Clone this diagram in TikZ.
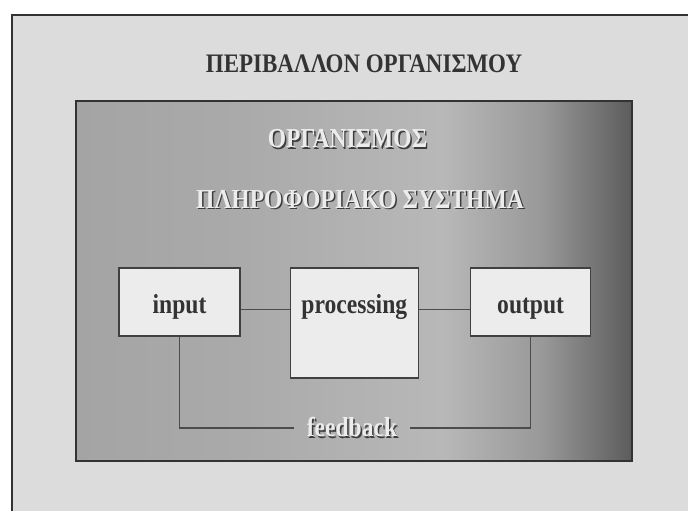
\documentclass[tikz,border=0pt]{standalone}
\usepackage{fontspec}
\setmainfont{Liberation Serif}
\usetikzlibrary{positioning}

\definecolor{envgray}{RGB}{220,220,220}
\definecolor{boxfill}{RGB}{236,236,236}
\definecolor{embtext}{RGB}{236,236,236}
\definecolor{embshade}{RGB}{60,60,60}
\definecolor{orgleft}{RGB}{164,164,164}
\definecolor{orgquarter}{RGB}{170,170,170}
\definecolor{orgmid}{RGB}{184,184,184}
\definecolor{orgdark}{RGB}{152,152,152}
\definecolor{orgright}{RGB}{92,92,92}

\pgfdeclarehorizontalshading{orgshade}{100bp}{color(0bp)=(orgleft); color(25bp)=(orgleft); color(40bp)=(orgquarter); color(58bp)=(orgmid); color(67bp)=(orgdark); color(75bp)=(orgright); color(100bp)=(orgright)}

\newcommand{\sq}[1]{\scalebox{0.86}[1]{#1}}
\newcommand{\emb}[1]{\rlap{\kern1.2pt\raisebox{-1.2pt}{\color{embshade}#1}}{\color{embtext}#1}}

\tikzset{
  title/.style={anchor=base, inner sep=0pt, text=black!80, font=\bfseries\fontsize{19}{22}\selectfont},
  embossed/.style={inner sep=0pt, font=\bfseries\fontsize{19.5}{22}\selectfont},
  unit/.style={draw=black!75, line width=0.9pt, fill=boxfill, text=black!80,
    font=\bfseries\fontsize{19.5}{22}\selectfont, inner sep=0pt,
    text height=1.125cm, text depth=0.575cm},
  link/.style={draw=black!70, line width=0.8pt}
}

\begin{document}
\begin{tikzpicture}[x=0.025cm, y=-0.025cm]
\useasboundingbox (0,0) rectangle (688,511);
\clip (0,0) rectangle (688,511);
\fill[white] (0,0) rectangle (688,511);
\draw[black!80, line width=1.1pt, fill=envgray] (12,15) rectangle (700,530);
\node[title] (environment) at (364,73) {\sq{ΠΕΡΙΒΑΛΛΟΝ ΟΡΓΑΝΙΣΜΟΥ}};

\shade[shading=orgshade, draw=black!80, line width=1pt] (76,101) rectangle (632,461);
\node[embossed, anchor=base] (organism) at (347.5,148) {\sq{\emb{ΟΡΓΑΝΙΣΜΟΣ}}};
\node[embossed, anchor=base] (infosystem) at (360,208) {\sq{\emb{ΠΛΗΡΟΦΟΡΙΑΚΟ ΣΥΣΤΗΜΑ}}};

\node[unit, anchor=base, minimum width=3.025cm] (input) at (179.5,313) {\sq{input}};
\node[unit, minimum width=3.2cm, text depth=1.625cm, base right=1.225cm of input] (processing) {\sq{processing}};
\node[unit, minimum width=3cm, base right=1.275cm of processing] (output) {\sq{output}};

\draw[link] (input.mid east) -- (processing.mid west);
\draw[link] (processing.mid east) -- (output.mid west);

\node[embossed, inner xsep=0.32cm] (feedback) at (352,428) {\sq{\emb{feedback}}};
\draw[link] (input.south) |- (feedback.west);
\draw[link] (output.south) |- (feedback.east);
\end{tikzpicture}
\end{document}
